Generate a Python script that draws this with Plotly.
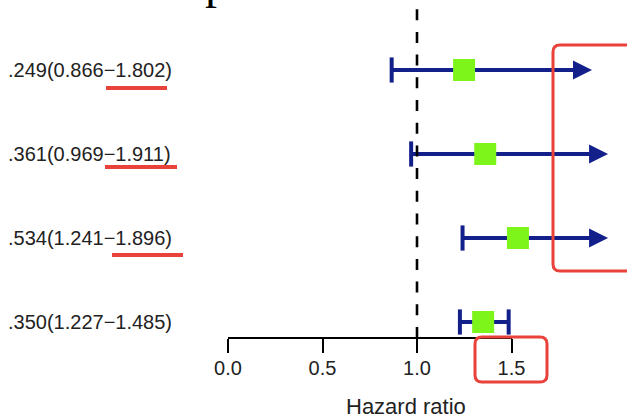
import plotly.graph_objects as go

# ---------------- data ----------------
rows = [1, 2, 3, 4]
labels = [".249(0.866\u22121.802)", ".361(0.969\u22121.911)",
          ".534(1.241\u22121.896)", ".350(1.227\u22121.485)"]
hr = [1.249, 1.361, 1.534, 1.350]
lower = [0.866, 0.969, 1.241, 1.227]
upper = [1.802, 1.911, 1.896, 1.485]
# whiskers drawn truncated with an arrow (value where the arrow tip sits)
arrow_tip = [1.926, 2.011, 2.011, None]
tick_vals = [0.0, 0.5, 1.0, 1.5]
tick_text = ["0.0", "0.5", "1.0", "1.5"]
null_value = 1.0
x_title = "Hazard ratio"

# ---------------- layout / style constants ----------------
W, H = 627, 418
X0_PX, PPU = 228, 189          # pixel of x=0, pixels per unit
ROW0_PX, ROW_STEP = 70, 84     # pixel of first row, row spacing
AXIS_Y_PX = 338
NAVY = "#13208a"
GREEN = "#7ef51a"
RED = "#e8423b"
FONT = "Liberation Sans, Arial, sans-serif"
HEAD_TRIM = 6 / PPU

x_range = [-X0_PX / PPU, (W - X0_PX) / PPU]
y_range = [1 + (H - ROW0_PX) / ROW_STEP, 1 - ROW0_PX / ROW_STEP]


def px(xp):
    return xp / W


def py(yp):
    return 1 - yp / H


fig = go.Figure()

# whisker segments
seg_x, seg_y = [], []
for r, lo, up, tip in zip(rows, lower, upper, arrow_tip):
    end = (tip - HEAD_TRIM) if tip is not None else up
    seg_x += [lo, end, None]
    seg_y += [r, r, None]
fig.add_trace(go.Scatter(x=seg_x, y=seg_y, mode="lines",
                         line=dict(color=NAVY, width=4),
                         showlegend=False, hoverinfo="skip"))

# caps
cap_x, cap_y = [], []
for r, lo, up, tip in zip(rows, lower, upper, arrow_tip):
    cap_x.append(lo)
    cap_y.append(r)
    if tip is None:
        cap_x.append(up)
        cap_y.append(r)
fig.add_trace(go.Scatter(x=cap_x, y=cap_y, mode="markers",
                         marker=dict(symbol="line-ns", size=18,
                                     line=dict(color=NAVY, width=4)),
                         showlegend=False, hoverinfo="skip"))

# point estimates
fig.add_trace(go.Scatter(x=hr, y=rows, mode="markers",
                         marker=dict(symbol="square", size=22, color=GREEN,
                                     line=dict(width=0)),
                         showlegend=False, hoverinfo="skip"))

# dummy trace to show the bottom axis
fig.add_trace(go.Scatter(x=tick_vals, y=[None] * len(tick_vals), xaxis="x2",
                         yaxis="y", mode="markers", showlegend=False,
                         hoverinfo="skip"))

annotations = []
# arrow heads
for r, tip in zip(rows, arrow_tip):
    if tip is None:
        continue
    annotations.append(dict(x=tip, y=r, xref="x", yref="y", ax=tip - 0.12,
                            ay=r, axref="x", ayref="y", text="",
                            showarrow=True, arrowhead=2, arrowsize=0.95,
                            arrowwidth=4, arrowcolor=NAVY))
# row labels
for r, lab in zip(rows, labels):
    annotations.append(dict(x=px(6), y=r, xref="paper", yref="y", text=lab,
                            showarrow=False, xanchor="left", yanchor="middle",
                            font=dict(family=FONT, size=20, color="#222222")))
# axis title
annotations.append(dict(x=px(406), y=py(406), xref="paper", yref="paper",
                        text=x_title, showarrow=False, xanchor="center",
                        yanchor="middle",
                        font=dict(family=FONT, size=22, color="#222222")))
# cropped title glyph at the very top
annotations.append(dict(x=px(217), y=py(-19), xref="paper", yref="paper",
                        text="p", showarrow=False, xanchor="center",
                        yanchor="middle",
                        font=dict(family="Liberation Serif, serif", size=48,
                                  color="black")))

shapes = []
# null line
shapes.append(dict(type="line", xref="x", yref="paper", x0=null_value,
                   x1=null_value, y0=py(AXIS_Y_PX), y1=1.0,
                   line=dict(color="black", width=2.6, dash="11px,11.7px")))

# red highlight marks
underlines = [(106, 167, 88), (105, 177, 167), (112, 183, 255)]
for x0, x1, yy in underlines:
    shapes.append(dict(type="line", xref="paper", yref="paper",
                       x0=px(x0), x1=px(x1), y0=py(yy), y1=py(yy),
                       line=dict(color=RED, width=4)))


def rounded_rect(x0, y0, x1, y1, rad):
    rx, ry = rad / W, rad / H
    a, b, c, d = px(x0), py(y0), px(x1), py(y1)  # b top, d bottom
    return (f"M{a+rx},{b} L{c-rx},{b} Q{c},{b} {c},{b-ry} "
            f"L{c},{d+ry} Q{c},{d} {c-rx},{d} L{a+rx},{d} "
            f"Q{a},{d} {a},{d+ry} L{a},{b-ry} Q{a},{b} {a+rx},{b} Z")


for box in [(553, 45, 680, 271), (475, 337, 547, 382)]:
    shapes.append(dict(type="path", xref="paper", yref="paper",
                       path=rounded_rect(*box, 7),
                       line=dict(color=RED, width=3)))

fig.update_layout(
    width=W, height=H,
    margin=dict(l=0, r=0, t=0, b=0),
    paper_bgcolor="white", plot_bgcolor="rgba(0,0,0,0)",
    xaxis=dict(range=x_range, visible=False, domain=[0, 1], fixedrange=True),
    yaxis=dict(range=y_range, visible=False, domain=[0, 1], fixedrange=True),
    xaxis2=dict(domain=[px(X0_PX + tick_vals[0] * PPU),
                        px(X0_PX + tick_vals[-1] * PPU)],
                range=[tick_vals[0], tick_vals[-1]],
                anchor="free", position=py(AXIS_Y_PX),
                showline=True, linecolor="black", linewidth=1.5,
                ticks="outside", ticklen=14, tickwidth=1.5, tickcolor="black",
                tickvals=tick_vals, ticktext=tick_text,
                ticklabelstandoff=-2,
                tickfont=dict(family=FONT, size=20, color="#222222"),
                showgrid=False, zeroline=False, automargin=False,
                fixedrange=True),
    annotations=annotations,
    shapes=shapes,
    showlegend=False,
)

fig.write_html("out.html", config={"displayModeBar": False},
               post_script="document.body.style.margin='0';"
                           "document.body.style.overflow='hidden';")
